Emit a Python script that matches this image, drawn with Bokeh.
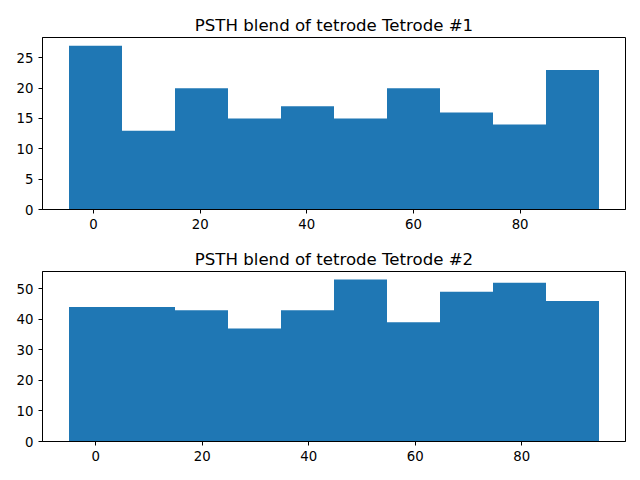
from bokeh.plotting import figure
from bokeh.layouts import column
from bokeh.models import Range1d, FixedTicker
from bokeh.embed import file_html
from bokeh.resources import INLINE

# Tetrode #1 histogram: bin edges and counts
t1_edges = [-4.6, 5.34, 15.28, 25.22, 35.16, 45.1, 55.04, 64.98, 74.92, 84.86, 94.8]
t1_counts = [27, 13, 20, 15, 17, 15, 20, 16, 14, 23]

# Tetrode #2 histogram: bin edges and counts
t2_edges = [-5.0, 4.95, 14.9, 24.85, 34.8, 44.75, 54.7, 64.65, 74.6, 84.55, 94.5]
t2_counts = [44, 44, 43, 37, 43, 53, 39, 49, 52, 46]

x_ticks = [0, 20, 40, 60, 80]
t1_y_ticks = [0, 5, 10, 15, 20, 25]
t2_y_ticks = [0, 10, 20, 30, 40, 50]

BAR = "#1f77b4"
FONT = "DejaVu Sans"


def psth_panel(title, edges, counts, y_ticks, frame_h, top_b, bottom_b):
    span = edges[-1] - edges[0]
    xr = Range1d(edges[0] - 0.05 * span, edges[-1] + 0.05 * span)
    yr = Range1d(0, max(counts) * 1.05)
    p = figure(frame_width=583, frame_height=frame_h, x_range=xr, y_range=yr,
               output_backend="svg", toolbar_location=None,
               title=title, min_border_left=42, min_border_right=15,
               min_border_top=top_b, min_border_bottom=bottom_b)
    p.quad(left=edges[:-1], right=edges[1:], bottom=0, top=counts,
           fill_color=BAR, line_color=None)

    p.title.align = "center"
    p.title.text_font = FONT
    p.title.text_font_size = "16.6px"
    p.title.text_font_style = "normal"
    p.title.text_color = "black"
    p.title.standoff = 5
    p.title.offset = 0

    p.xgrid.visible = False
    p.ygrid.visible = False
    p.outline_line_color = "black"
    p.outline_line_width = 1
    p.background_fill_color = "white"
    p.border_fill_color = "white"

    p.xaxis.ticker = FixedTicker(ticks=x_ticks)
    p.yaxis.ticker = FixedTicker(ticks=y_ticks)
    for ax in (p.xaxis[0], p.yaxis[0]):
        ax.axis_line_color = "black"
        ax.major_tick_line_color = "black"
        ax.major_tick_out = 4
        ax.major_tick_in = 0
        ax.minor_tick_line_color = None
        ax.major_label_text_font = FONT
        ax.major_label_text_font_size = "13.3px"
        ax.major_label_text_color = "black"
        ax.major_label_standoff = 5
    return p


top = psth_panel("PSTH blend of tetrode Tetrode #1", t1_edges, t1_counts,
                 t1_y_ticks, 172, 37, 31)
bottom = psth_panel("PSTH blend of tetrode Tetrode #2", t2_edges, t2_counts,
                    t2_y_ticks, 170, 31, 39)

layout = column(top, bottom, spacing=0)
open("out.html", "w").write(file_html(layout, INLINE))
